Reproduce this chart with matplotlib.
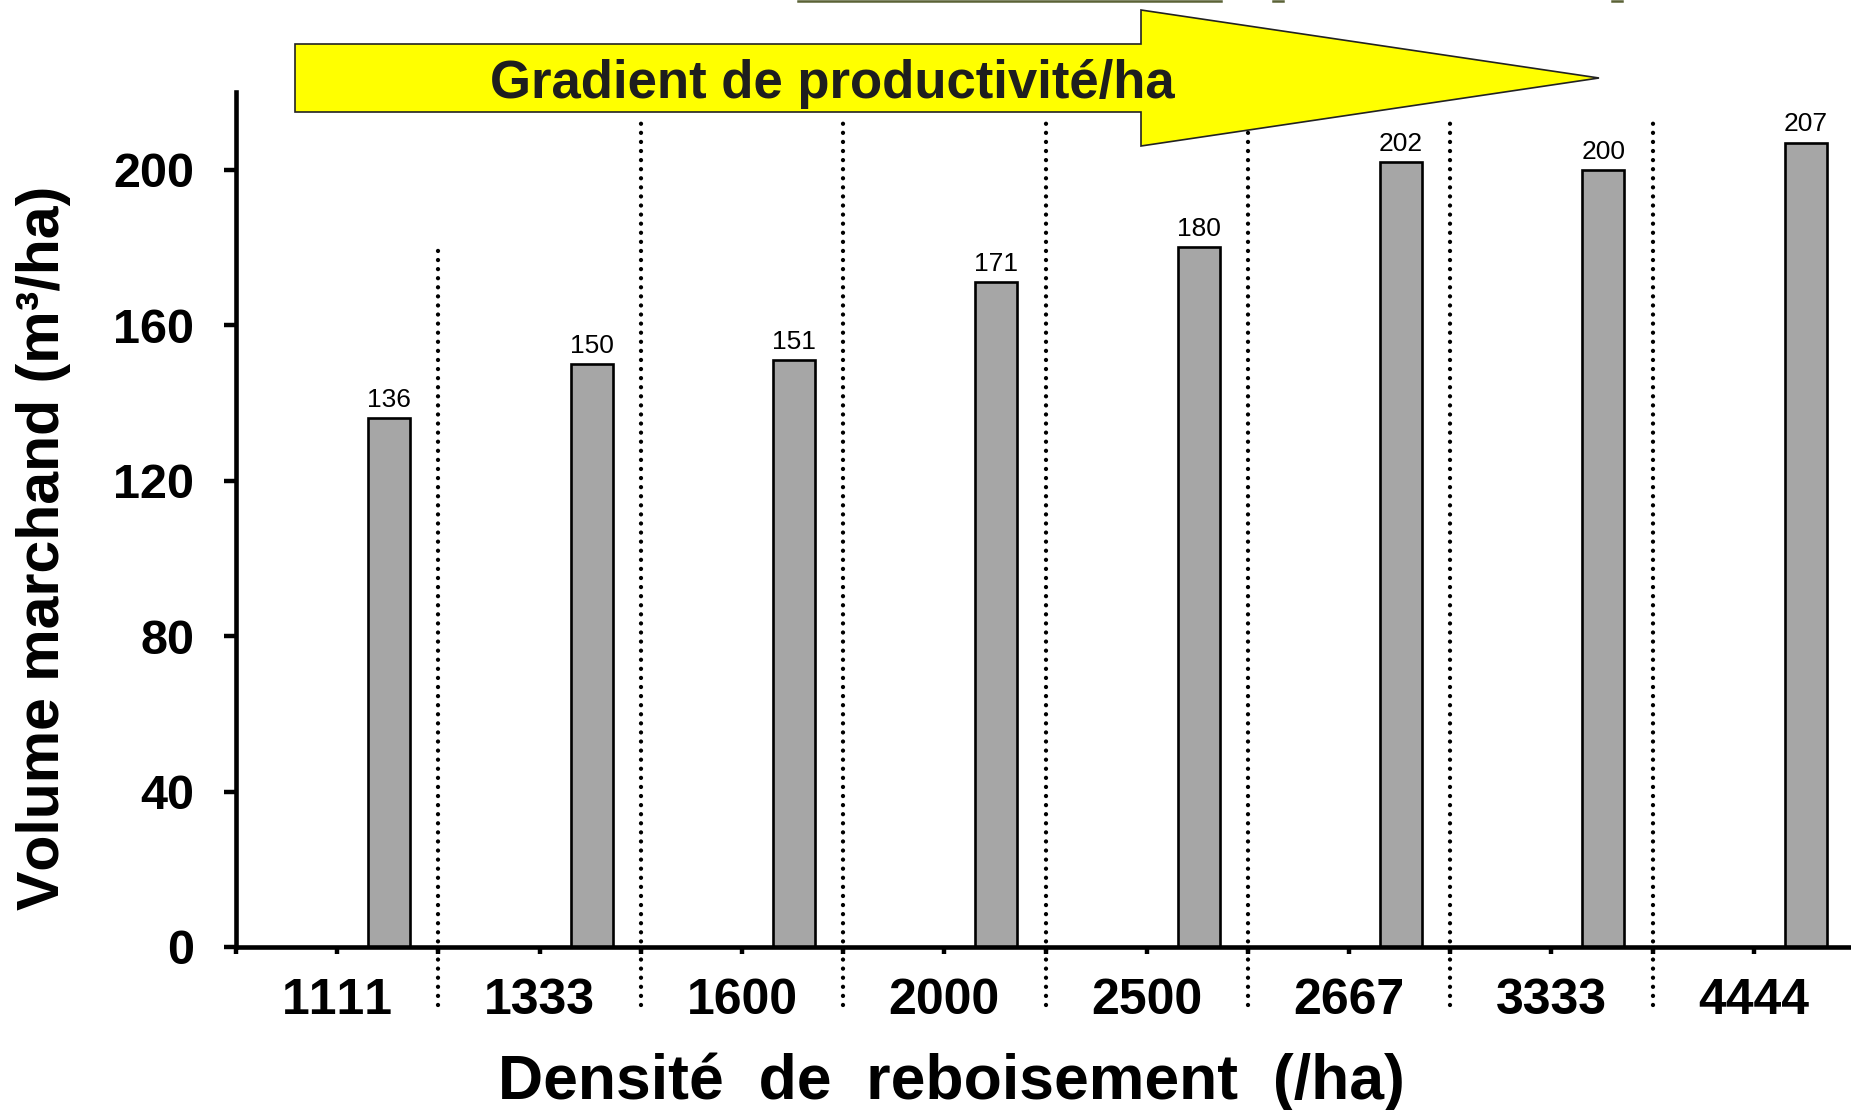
import matplotlib
matplotlib.use('Agg')
import matplotlib.pyplot as plt
from matplotlib.patches import Polygon
from matplotlib.lines import Line2D
import numpy as np

# ---- data ----
categories = ['1111', '1333', '1600', '2000', '2500', '2667', '3333', '4444']
volumes = [136, 150, 151, 171, 180, 202, 200, 207]
y_ticks = [0, 40, 80, 120, 160, 200]
arrow_label = 'Gradient de productivité/ha'
x_label = 'Densité  de  reboisement  (/ha)'
y_label = 'Volume marchand (m³/ha)'
divider_tops = [181, 213, 213, 213, 213, 213, 213]
divider_bottom = -15

plt.rcParams['font.family'] = ['Liberation Sans', 'DejaVu Sans']
plt.rcParams['text.kerning_factor'] = 20   # effectively no kerning, like the reference

W, H = 1851, 1110
fig = plt.figure(figsize=(W / 100, H / 100), dpi=100)
ax = fig.add_axes([236 / W, 1 - 947 / H, (1855 - 236) / W, (947 - 92) / H])

x = np.arange(len(categories))
bar_off = 0.257
ax.bar(x + bar_off, volumes, width=0.208, color='#A6A6A6',
       edgecolor='black', linewidth=1.9, zorder=3)

for xi, v in zip(x, volumes):
    ax.annotate(str(v), (xi + bar_off, v), xytext=(0, 8), textcoords='offset points',
                ha='center', va='baseline', fontsize=19, color='black')

# dotted separators
for i, top in enumerate(divider_tops):
    ax.plot([i + 0.5, i + 0.5], [divider_bottom, top], color='black', lw=3.1,
            linestyle=(0, (0.01, 2.1)), dash_capstyle='round', clip_on=False, zorder=2)

ax.set_xlim(-0.5, len(categories) - 0.5)
ax.set_ylim(0, 220)
ax.set_xticks(x)
ax.set_xticklabels(categories, fontsize=36, fontweight='bold')
ax.set_xticks(np.arange(-0.5, len(categories), 1), minor=True)
ax.set_yticks(y_ticks)
ax.set_yticklabels([str(t) for t in y_ticks], fontsize=35, fontweight='bold')

for s in ['top', 'right']:
    ax.spines[s].set_visible(False)
for s in ['left', 'bottom']:
    ax.spines[s].set_linewidth(3.3)
    ax.spines[s].set_zorder(4)

ax.tick_params(axis='x', which='both', direction='out', length=5, width=3.2, pad=17)
ax.tick_params(axis='y', direction='out', length=9, width=3.2, pad=21)

fig.text(951 / W, 1 - 1082 / H, x_label, ha='center', va='center',
         fontsize=45, fontweight='bold')
fig.text(44 / W, 1 - 548 / H, y_label, ha='center', va='center', rotation=90,
         fontsize=42.5, fontweight='bold')

# yellow arrow
pts = [(295, 44), (1141, 44), (1141, 10), (1599, 78), (1141, 146), (1141, 112), (295, 112)]
poly = Polygon([(px / W, 1 - py / H) for px, py in pts], closed=True,
               facecolor='#FFFF00', edgecolor='#222222', linewidth=1.2,
               transform=fig.transFigure, zorder=5)
fig.patches.append(poly)
fig.text(832 / W, 1 - 84 / H, arrow_label, ha='center', va='center',
         fontsize=38, fontweight='bold', color='#1e1e1e', zorder=6)

# cut-off title remnants at the very top
for x0, x1 in [(798, 1221), (1273, 1283), (1612, 1622)]:
    fig.lines.append(Line2D([x0 / W, x1 / W], [1 - 1 / H, 1 - 1 / H], color='#5B6236',
                            lw=1.8, transform=fig.transFigure, zorder=5))

fig.savefig('out.png', dpi=100, facecolor='white')
